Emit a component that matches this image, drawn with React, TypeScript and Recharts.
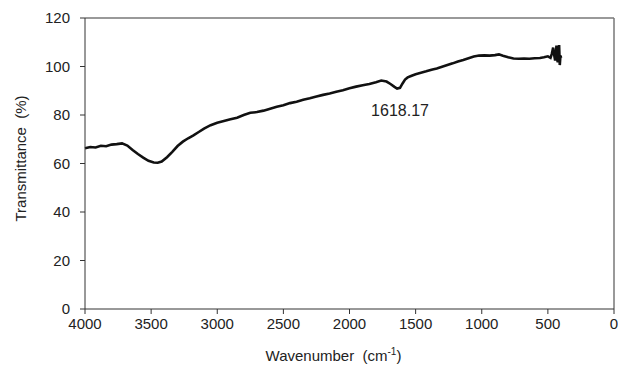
import React from 'react';
import {
  LineChart,
  Line,
  XAxis,
  YAxis,
  ReferenceLine,
  ReferenceDot,
} from 'recharts';

const wavenumbers = [
  4000, 3960, 3920, 3880, 3840, 3800, 3760, 3720, 3680, 3640, 3600, 3560, 3520, 3480, 3450,
  3420, 3380, 3340, 3300, 3260, 3220, 3180, 3140, 3100, 3050, 3000, 2950, 2900, 2850, 2800,
  2750, 2700, 2650, 2600, 2550, 2500, 2450, 2400, 2350, 2300, 2250, 2200, 2150, 2100, 2050,
  2000, 1950, 1900, 1850, 1800, 1760, 1720, 1690, 1660, 1640, 1618, 1600, 1580, 1560, 1530,
  1500, 1460, 1420, 1380, 1340, 1300, 1260, 1220, 1180, 1140, 1100, 1060, 1020, 980, 940,
  900, 870, 840, 800, 760, 720, 680, 640, 600, 560, 530, 500, 480, 470, 460, 450, 445, 440,
  435, 430, 425, 420, 415, 410, 405, 400,
];

const transmittance = [
  66.3, 66.8, 66.6, 67.3, 67.1, 67.8, 68.0, 68.3, 67.4, 65.6, 63.9, 62.4, 61.1, 60.4, 60.3,
  60.8, 62.6, 64.8, 67.2, 69.0, 70.4, 71.6, 73.0, 74.4, 75.8, 76.8, 77.5, 78.2, 78.9, 80.0,
  80.9, 81.2, 81.8, 82.6, 83.4, 84.0, 84.9, 85.5, 86.3, 86.9, 87.6, 88.3, 88.9, 89.6, 90.2,
  91.0, 91.7, 92.3, 92.8, 93.5, 94.2, 93.8, 92.8, 91.6, 90.9, 91.2, 92.9, 94.6, 95.5, 96.2,
  96.8, 97.4, 98.0, 98.7, 99.2, 99.9, 100.6, 101.3, 102.1, 102.7, 103.4, 104.1, 104.5, 104.6, 104.5,
  104.7, 105.0, 104.4, 103.8, 103.3, 103.2, 103.3, 103.2, 103.4, 103.5, 103.8, 104.2, 103.6, 105.2, 107.8, 104.0, 102.5, 104.8,
  108.6, 103.0, 101.8, 105.5, 108.8, 100.6, 104.5, 103.6,
];

const xTicks = [4000, 3500, 3000, 2500, 2000, 1500, 1000, 500, 0];
const yTicks = [0, 20, 40, 60, 80, 100, 120];

const peakLabel = '1618.17';
const peakPos = [1618, 82];

const data = wavenumbers.map((w, i) => ({ w, t: transmittance[i] }));

const font = '"Liberation Sans", Arial, sans-serif';
const tickStyle = { fontSize: 15, fill: '#222', fontFamily: font };

const YTitle = ({ viewBox }: any) => {
  const cy = viewBox.y + viewBox.height / 2 - 5;
  return (
    <text
      x={20}
      y={cy}
      transform={`rotate(-90, 20, ${cy})`}
      textAnchor="middle"
      dominantBaseline="central"
      style={{ fontSize: 15, fill: '#222', fontFamily: font, whiteSpace: 'pre' }}
    >
      Transmittance  (%)
    </text>
  );
};

const XTitle = ({ viewBox }: any) => {
  const cx = viewBox.x + viewBox.width / 2 - 16;
  return (
    <text
      x={cx}
      y={361}
      textAnchor="middle"
      style={{ fontSize: 15, fill: '#222', fontFamily: font, whiteSpace: 'pre' }}
    >
      Wavenumber  (cm
      <tspan dy={-6} fontSize={10}>-1</tspan>
      <tspan dy={6}>)</tspan>
    </text>
  );
};

export default function App() {
  return (
    <div style={{ position: 'absolute', left: 0, top: 0, background: '#fff' }}>
      <LineChart
        width={618}
        height={377}
        data={data}
        margin={{ top: 18, right: 4, bottom: 0, left: 0 }}
      >
        <XAxis
          dataKey="w"
          type="number"
          domain={[0, 4000]}
          ticks={xTicks}
          reversed
          height={68}
          tickSize={5}
          tickMargin={4}
          tick={tickStyle}
          stroke="#333"
          interval={0}
          label={<XTitle />}
        />
        <YAxis
          type="number"
          domain={[0, 120]}
          ticks={yTicks}
          width={85}
          tickSize={5}
          tickMargin={10}
          tick={tickStyle}
          stroke="#333"
          interval={0}
          label={<YTitle />}
        />
        <ReferenceLine y={120} stroke="#777" strokeWidth={1.5} />
        <ReferenceLine x={0} stroke="#777" strokeWidth={1.5} />
        <Line
          type="linear"
          dataKey="t"
          stroke="#111"
          strokeWidth={2.6}
          dot={false}
          isAnimationActive={false}
        />
        <ReferenceDot
          x={peakPos[0]}
          y={peakPos[1]}
          r={0}
          fill="none"
          stroke="none"
          label={{ value: peakLabel, position: 'center', fontSize: 16, fill: '#222', fontFamily: font }}
        />
      </LineChart>
    </div>
  );
}
